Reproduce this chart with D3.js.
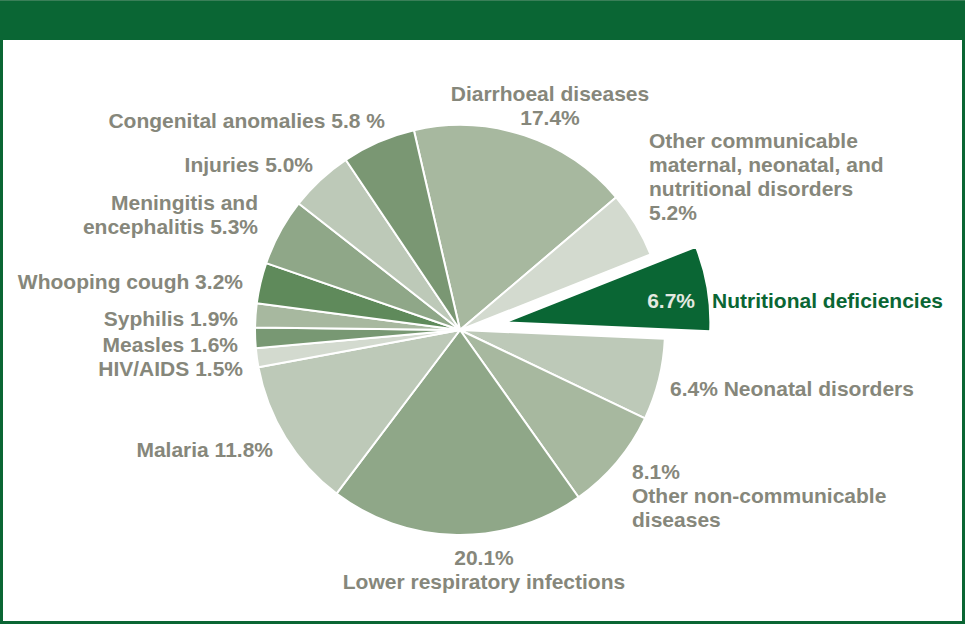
<!DOCTYPE html>
<html>
<head>
<meta charset="utf-8">
<script src="https://cdn.jsdelivr.net/npm/d3@7"></script>
<style>
  html, body { margin: 0; padding: 0; background: #fff; }
  svg { display: block; }
  text { font-family: "Liberation Sans", Arial, sans-serif; font-weight: bold; }
</style>
</head>
<body>
<svg id="chart" width="965" height="624"></svg>
<script>
// ---- data ----
const categories = [
  "Diarrhoeal diseases",
  "Other communicable maternal, neonatal, and nutritional disorders",
  "Nutritional deficiencies",
  "Neonatal disorders",
  "Other non-communicable diseases",
  "Lower respiratory infections",
  "Malaria",
  "HIV/AIDS",
  "Measles",
  "Syphilis",
  "Whooping cough",
  "Meningitis and encephalitis",
  "Injuries",
  "Congenital anomalies"
];
const values = [17.4, 5.2, 6.7, 6.4, 8.1, 20.1, 11.8, 1.5, 1.6, 1.9, 3.2, 5.3, 5.0, 5.8];
const highlighted = ["Nutritional deficiencies"];

// label text lines per category (in the same order)
const labelLines = [
  ["Diarrhoeal diseases", "17.4%"],
  ["Other communicable", "maternal, neonatal, and", "nutritional disorders", "5.2%"],
  ["Nutritional deficiencies"],
  ["6.4% Neonatal disorders"],
  ["8.1%", "Other non-communicable", "diseases"],
  ["20.1%", "Lower respiratory infections"],
  ["Malaria 11.8%"],
  ["HIV/AIDS 1.5%"],
  ["Measles 1.6%"],
  ["Syphilis 1.9%"],
  ["Whooping cough 3.2%"],
  ["Meningitis and", "encephalitis 5.3%"],
  ["Injuries 5.0%"],
  ["Congenital anomalies 5.8 %"]
];

// ---- layout (positions & styles) ----
const W = 965, H = 624;
const cx = 460, cy = 330, R = 205, explode = 46;
const startDeg = -13;
const sliceColors = ["#a7b89f", "#d3dacf", "#0a6634", "#bdc9b8", "#a7b89f", "#8fa788", "#bdc9b8",
                     "#d3dacf", "#789873", "#a7b89f", "#5f8a5b", "#8fa788", "#bdc9b8", "#7a9773"];
const labelLayout = [
  {x: 550, y: 101, anchor: "middle"},
  {x: 649, y: 148, anchor: "start"},
  {x: 712, y: 308, anchor: "start"},
  {x: 670, y: 396, anchor: "start"},
  {x: 632, y: 479, anchor: "start"},
  {x: 484, y: 565, anchor: "middle"},
  {x: 273, y: 457, anchor: "end"},
  {x: 243, y: 376, anchor: "end"},
  {x: 238, y: 352, anchor: "end"},
  {x: 238, y: 326, anchor: "end"},
  {x: 243, y: 289, anchor: "end"},
  {x: 258, y: 210, anchor: "end"},
  {x: 313, y: 172, anchor: "end"},
  {x: 385, y: 128, anchor: "end"}
];
const lineH = 24;
const fontSize = 21;
const textGrey = "#86877b";
const green = "#0a6634";

const svg = d3.select("#chart");

// frame + header
svg.append("rect").attr("x", 1.5).attr("y", 1.5).attr("width", W - 3).attr("height", H - 3)
  .attr("fill", "#fff").attr("stroke", green).attr("stroke-width", 3);
svg.append("rect").attr("x", 0).attr("y", 0).attr("width", W).attr("height", 40).attr("fill", green);
svg.append("rect").attr("x", 0).attr("y", 0).attr("width", W).attr("height", 1).attr("fill", "#3a7f58");

const data = categories.map((c, i) => ({category: c, value: values[i], color: sliceColors[i], lines: labelLines[i], layout: labelLayout[i]}));

const pie = d3.pie().value(d => d.value).sort(null)
  .startAngle(startDeg * Math.PI / 180)
  .endAngle(startDeg * Math.PI / 180 + 2 * Math.PI);
const arc = d3.arc().innerRadius(0).outerRadius(R);
const arcs = pie(data);

const g = svg.append("g").attr("transform", `translate(${cx},${cy})`);
g.selectAll("path").data(arcs).join("path")
  .attr("d", arc)
  .attr("fill", d => d.data.color)
  .attr("stroke", "#fff")
  .attr("stroke-width", 2)
  .attr("stroke-linejoin", "round")
  .attr("transform", d => {
    if (!highlighted.includes(d.data.category)) return null;
    const mid = (d.startAngle + d.endAngle) / 2;
    return `translate(${explode * Math.sin(mid)},${-explode * Math.cos(mid)})`;
  });

// percentage inside highlighted slice
arcs.filter(d => highlighted.includes(d.data.category)).forEach(d => {
  svg.append("text")
    .attr("x", 695).attr("y", 308)
    .attr("text-anchor", "end")
    .attr("font-size", fontSize)
    .attr("fill", "#e4e9e1")
    .text(d.data.value.toFixed(1) + "%");
});

// labels
const lab = svg.append("g");
data.forEach(d => {
  const t = lab.append("text")
    .attr("x", d.layout.x).attr("y", d.layout.y)
    .attr("text-anchor", d.layout.anchor)
    .attr("font-size", fontSize)
    .attr("fill", highlighted.includes(d.category) ? green : textGrey);
  d.lines.forEach((ln, i) => {
    t.append("tspan").attr("x", d.layout.x).attr("y", d.layout.y + i * lineH).text(ln);
  });
});
</script>
</body>
</html>
